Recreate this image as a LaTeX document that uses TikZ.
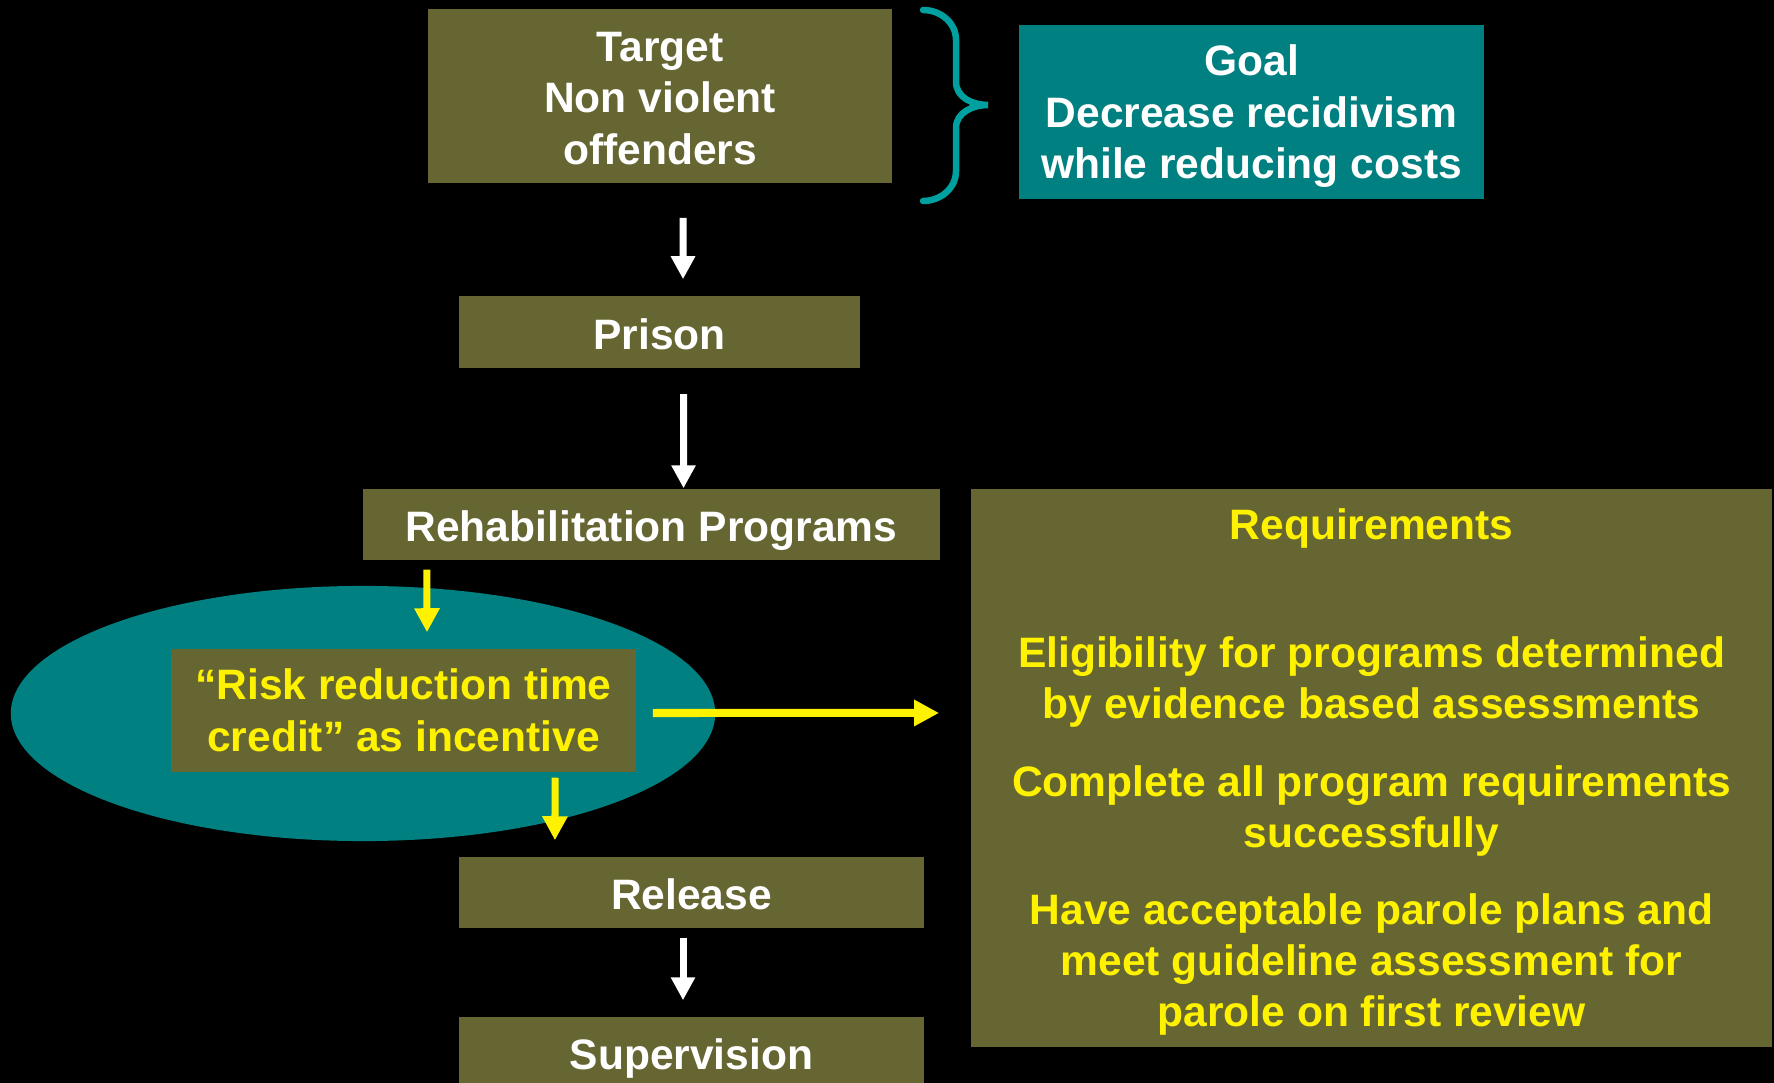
\documentclass[tikz,border=0pt]{standalone}
\usepackage{fontspec}
\setmainfont{Liberation Sans}
\usetikzlibrary{arrows.meta,shapes.geometric}

\definecolor{olivebox}{RGB}{102,102,51}
\definecolor{tealbox}{RGB}{0,128,128}
\definecolor{bracecol}{RGB}{0,160,160}

\begin{document}
\begin{tikzpicture}[x=0.01cm, y=-0.01cm,
	every node/.style={font=\fontsize{12.1}{14.65}\selectfont\bfseries, inner sep=0pt, align=center},
	stagebox/.style={rectangle, fill=olivebox, text=white, minimum width=4.65cm, minimum height=0.71cm, text height=0.40cm, text depth=0.06cm},
	whitearrow/.style={white, line width=0.07cm, -{Triangle[width=0.23cm,length=0.23cm]}},
	yellowarrow/.style={yellow, line width=0.07cm, -{Triangle[width=0.24cm,length=0.24cm]}}]

			% Background
			\useasboundingbox (0,0) rectangle (1774,1083);
			\fill[black] (0,0) rectangle (1774,1083);

			% Draw the top row: target, brace and goal
			\node[rectangle, fill=olivebox, text=white, minimum width=4.64cm, minimum height=1.74cm, text height=1.37cm] (target) at (660,96) {Target\\Non violent\\offenders};
			\node[rectangle, fill=tealbox, text=white, minimum width=4.65cm, minimum height=1.74cm, text depth=0pt] (goal) at (1251.5,112) {Goal\\Decrease recidivism\\while reducing costs};
			\draw[bracecol, line width=0.065cm, line cap=round] (923,10) to[out=0, in=90] (956,40) -- (956,82)
				to[out=-90, in=180] (988,105) to[out=180, in=90] (956,128) -- (956,171) to[out=-90, in=0] (923,201);

			% Draw the stages down the left
			\node[stagebox, minimum width=4.01cm] (prison) at (659.5,332) {Prison};
			\node[stagebox, minimum width=5.77cm] (rehab) at (651.5,524.5) {Rehabilitation Programs};
			\node[ellipse, fill=tealbox, minimum width=7.04cm, minimum height=2.55cm] (zone) at (363,713.5) {};
			\node[rectangle, fill=olivebox, text=yellow, minimum width=4.65cm, minimum height=1.23cm] (credit) at (403.5,710.5) {“Risk reduction time\\credit” as incentive};
			\node[stagebox] (release) at (691.5,892.5) {Release};
			\node[stagebox] (supervision) at (691.5,1052.5) {Supervision};

			% Draw the requirements box
			\node[rectangle, fill=olivebox, text=yellow, minimum width=8.01cm, minimum height=5.58cm, text depth=-0.045cm,
				font=\fontsize{12.1}{14.6}\selectfont\bfseries] (req) at (1371.5,768)
				{Requirements\\[0.76cm]
				Eligibility for programs determined\\by evidence based assessments\\[0.265cm]
				Complete all program requirements\\successfully\\[0.25cm]
				Have acceptable parole plans and\\meet guideline assessment for\\parole on first review};

			% White arrows between the stages
			\draw[whitearrow] ([xshift=0.23cm,yshift=-0.34cm]target.south) -- ([xshift=0.235cm,yshift=0.165cm]prison.north);
			\draw[whitearrow] ([xshift=0.24cm,yshift=-0.26cm]prison.south) -- ([xshift=0.32cm]rehab.north);
			\draw[whitearrow] ([xshift=-0.085cm,yshift=-0.09cm]release.south) -- ([xshift=-0.085cm,yshift=0.16cm]supervision.north);

			% Yellow arrows round the time credit
			\draw[yellowarrow] ([xshift=-2.245cm,yshift=-0.09cm]rehab.south) -- ([xshift=0.235cm,yshift=0.16cm]credit.north);
			\draw[yellowarrow] ([xshift=1.515cm,yshift=-0.05cm]credit.south) -- ([xshift=-1.365cm,yshift=0.16cm]release.north);
			\draw[yellowarrow, line width=0.08cm, -{Triangle[width=0.25cm,length=0.25cm]}] ([xshift=0.16cm,yshift=-0.025cm]credit.east) -- ([xshift=-0.31cm,yshift=0.55cm]req.west);

		\end{tikzpicture}
\end{document}
